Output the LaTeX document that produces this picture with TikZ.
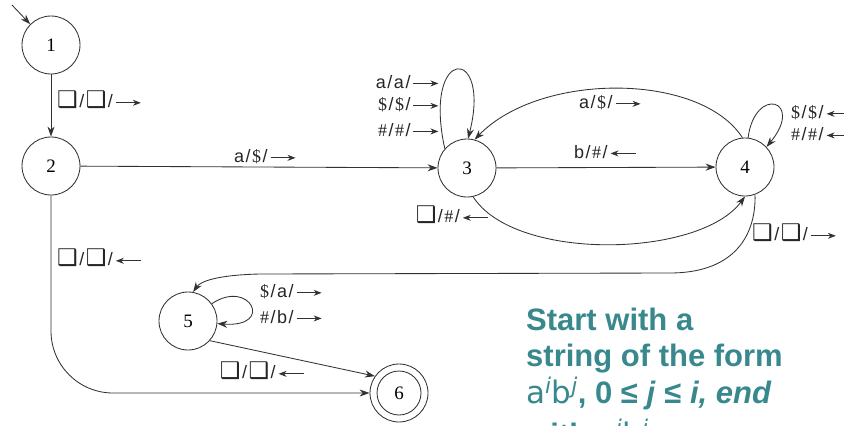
\documentclass[tikz,border=0pt]{standalone}
\usepackage{fontspec}
\setmainfont{Liberation Serif}
\newfontfamily\lsans{Liberation Sans}
\newfontfamily\dejav{DejaVu Sans}
\usetikzlibrary{arrows.meta}
\definecolor{teal1}{RGB}{56,136,141}
\definecolor{ink}{RGB}{50,50,50}
\newcommand{\bx}{{\dejav\fontsize{23}{23}\selectfont ❑}}
\newcommand{\dol}{{\rmfamily\$}}
\newcommand{\hsh}{{\rmfamily\#}}
\newcommand{\slsh}{\kern1.5pt/\kern1.5pt}
\newcommand{\rarr}{\kern1pt\tikz[baseline=-5pt]\draw[ink,line width=0.8pt,-{Stealth[length=8pt,width=6pt]}] (0pt,0pt) -- (25pt,0pt);}
\newcommand{\larr}{\kern1pt\tikz[baseline=-5pt]\draw[ink,line width=0.8pt,{Stealth[length=8pt,width=6pt]}-] (0pt,0pt) -- (25pt,0pt);}
\begin{document}
\begin{tikzpicture}[x=1pt,y=-1pt,
  st/.style={circle,draw=ink,line width=0.85pt,minimum size=58pt,inner sep=0pt,font=\fontsize{19}{19}\selectfont},
  edge/.style={draw=ink,line width=0.85pt,-{Stealth[length=10pt,width=7pt]}},
  lab/.style={font=\lsans\fontsize{18}{18}\selectfont,inner sep=0pt,text=black!85},
  note/.style={font=\lsans\bfseries\fontsize{31}{31}\selectfont,text=teal1,anchor=base west,inner sep=0pt}]
\useasboundingbox (0,0) rectangle (844,426);
\node[st] (n1) at (51,45) {1};
\node[st] (n2) at (51,166) {2};
\node[st] (n3) at (467,168) {3};
\node[st] (n4) at (745,167) {4};
\node[st] (n5) at (188,321) {5};
\node[st] (n6) at (399,393) {6};
\draw[ink,line width=0.85pt] (n6.center) circle[radius=22pt];
% initial
\coordinate (i0) at (12,5);
\draw[edge] (i0) -- (n1.135);
% 1 -> 2
\draw[edge] (n1) -- (n2);
\node[lab,anchor=west] (l12) at (57,100) {\bx\slsh\bx\slsh\rarr};
% 2 -> 3
\draw[edge] (n2) -- (n3);
\node[lab] (l23) at (265,157) {a\slsh\dol\slsh\rarr};
% loop 3
\draw[edge] (n3.139) .. controls (422,45) and (492,45) .. (n3.88);
\node[lab,anchor=east] (l3a) at (439,82) {a\slsh a\slsh\rarr};
\node[lab,anchor=east] (l3b) at (439,105) {\dol\slsh\dol\slsh\rarr};
\node[lab,anchor=east] (l3c) at (439,130) {\hsh\slsh\hsh\slsh\rarr};
% 4 -> 3 upper
\draw[edge] (n4.95) .. controls (700,72) and (540,72) .. (n3.75);
\node[lab] (l43) at (610,103) {a\slsh\dol\slsh\rarr};
% 3 -> 4 straight
\draw[edge] (n3) -- (n4);
\node[lab] (l34) at (605,152) {b\slsh\hsh\slsh\larr};
% 3 -> 4 lower
\draw[edge] (n3.-78) .. controls (515,262) and (700,258) .. (n4.-90);
\node[lab] (l34b) at (452,215) {\bx\slsh\hsh\slsh\larr};
% loop 4
\draw[edge] (n4.84) .. controls (755,85) and (805,100) .. (n4.43);
\node[lab,anchor=west] (l4a) at (791,113) {\dol\slsh\dol\slsh\larr};
\node[lab,anchor=west] (l4b) at (791,134) {\hsh\slsh\hsh\slsh\larr};
% 4 -> 5
\draw[edge] (n4.-70) .. controls (756,240) and (730,273) .. (670,273) -- (260,274) .. controls (215,275) and (200,282) .. (n5.80);
\node[lab,anchor=west] (l45) at (752,233) {\bx\slsh\bx\slsh\rarr};
% loop 5
\draw[edge] (n5.36) .. controls (250,278) and (275,328) .. (n5.-5);
\node[lab,anchor=west] (l5a) at (260,292) {\dol\slsh a\slsh\rarr};
\node[lab,anchor=west] (l5b) at (260,317) {\hsh\slsh b\slsh\rarr};
% 5 -> 6
\draw[edge] (n5.-42) -- (n6.145);
\node[lab] (l56) at (262,371) {\bx\slsh\bx\slsh\larr};
% 2 -> 6
\draw[edge,rounded corners=62pt] (n2.south) -- (51,393) -- (n6.west);
\node[lab,anchor=west] (l26) at (57,258) {\bx\slsh\bx\slsh\larr};
% note
\node[note] (t1) at (526,330) {Start with a};
\node[note] (t2) at (526,366) {string of the form};
\node[note] (t3) at (526,403) {{\dejav\mdseries a\textsuperscript{\itshape i}b\textsuperscript{\itshape j}}, 0 ≤ \textit{j} ≤ \textit{i, end}};
\node[note] (t4) at (526,445) {with {\dejav\mdseries a\textsuperscript{\itshape i}b\textsuperscript{\itshape i}}};
\end{tikzpicture}
\end{document}
